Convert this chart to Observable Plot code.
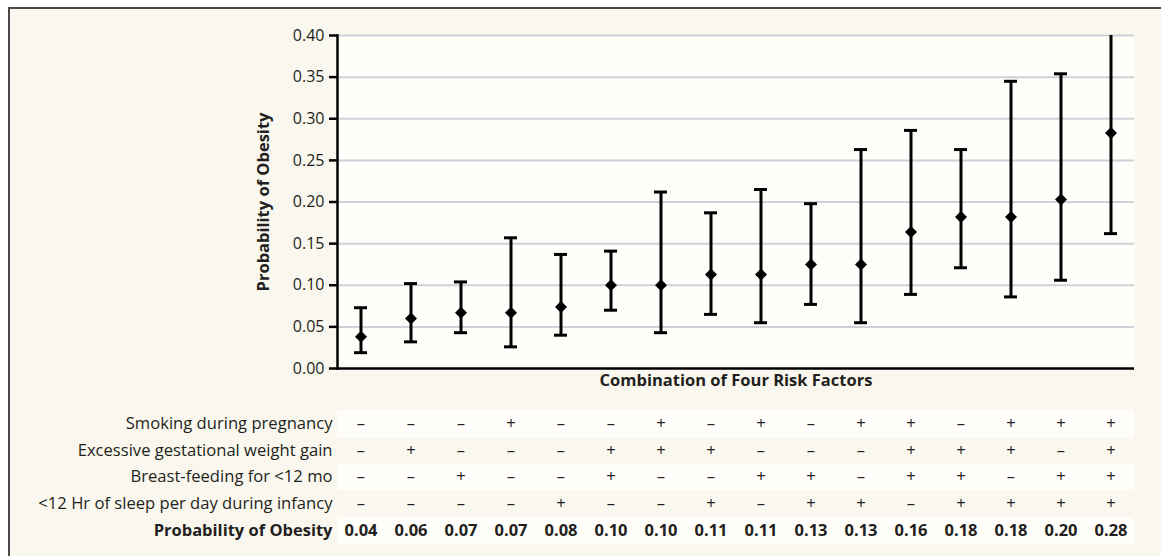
<!DOCTYPE html>
<html>
<head>
<meta charset="utf-8">
<script src="https://cdn.jsdelivr.net/npm/d3@7"></script>
<script src="https://cdn.jsdelivr.net/npm/@observablehq/plot@0.6"></script>
<style>
  html, body { margin: 0; padding: 0; background: #ffffff; }
  #page { position: relative; width: 1161px; height: 556px; overflow: hidden; }
  #frame { position: absolute; left: 8px; top: 7px; right: 0; bottom: 0;
           background: #faf8ee; border-top: 2px solid #4a4a4a; border-left: 2px solid #4a4a4a; }
  .layer { position: absolute; left: 0; }
</style>
</head>
<body>
<div id="page"><div id="frame"></div></div>
<script>
// ---- data ----
const combos = d3.range(16);
const estimate = [0.038, 0.060, 0.067, 0.067, 0.074, 0.100, 0.100, 0.113, 0.113, 0.125, 0.125, 0.164, 0.182, 0.182, 0.203, 0.283];
const lower    = [0.019, 0.032, 0.043, 0.026, 0.040, 0.070, 0.043, 0.065, 0.055, 0.077, 0.055, 0.089, 0.121, 0.086, 0.106, 0.162];
const upper    = [0.073, 0.102, 0.104, 0.157, 0.137, 0.141, 0.212, 0.187, 0.215, 0.198, 0.263, 0.286, 0.263, 0.345, 0.354, 0.420];
const probLabels = ["0.04","0.06","0.07","0.07","0.08","0.10","0.10","0.11","0.11","0.13","0.13","0.16","0.18","0.18","0.20","0.28"];
const factorNames = ["Smoking during pregnancy", "Excessive gestational weight gain", "Breast-feeding for <12 mo", "<12 Hr of sleep per day during infancy"];
const smoking   = ["-","-","-","+","-","-","+","-","+","-","+","+","-","+","+","+"];
const weightGain= ["-","+","-","-","-","+","+","+","-","-","-","+","+","+","-","+"];
const breast    = ["-","-","+","-","-","+","-","-","+","+","-","+","+","-","+","+"];
const sleep     = ["-","-","-","-","+","-","-","+","-","+","+","-","+","+","+","+"];
const yTicks = [0, 0.05, 0.10, 0.15, 0.20, 0.25, 0.30, 0.35, 0.40];
const yLabel = "Probability of Obesity";
const xLabel = "Combination of Four Risk Factors";
const probRowLabel = "Probability of Obesity";

// ---- tables ----
const points = combos.map(i => ({i, est: estimate[i], lo: lower[i], hi: upper[i]}));
const signRows = [smoking, weightGain, breast, sleep];
const cells = signRows.flatMap((row, r) => row.map((s, c) => ({r, c, s: s === "+" ? "+" : "\u2013"})));

const FONT = "'Open Sans', 'Noto Sans', sans-serif";
const INK = "#231f20";
const W = 1161, ML = 337, MR = 27;
const FS = 16, FST = 16.6, FSB = 16.5;
const xOpts = {type: "band", domain: combos, paddingInner: 0.74, paddingOuter: 0.31, axis: null};

const chart = Plot.plot({
  width: W, height: 398,
  marginLeft: ML, marginRight: MR, marginTop: 35, marginBottom: 30,
  style: {background: "transparent", fontFamily: FONT, fontSize: FS + "px", color: INK, overflow: "visible"},
  x: xOpts,
  y: {domain: [0, 0.40], axis: null},
  marks: [
    Plot.frame({fill: "#fffefa", stroke: null}),
    Plot.gridY(yTicks.filter(v => v > 0), {stroke: "#cfd0d8", strokeOpacity: 1, strokeWidth: 2}),
    Plot.ruleX(points, {x: "i", y1: "lo", y2: "hi", stroke: "black", strokeWidth: 3, clip: true}),
    Plot.tickY(points, {x: "i", y: "lo", stroke: "black", strokeWidth: 3}),
    Plot.tickY(points.filter(d => d.hi <= 0.40), {x: "i", y: "hi", stroke: "black", strokeWidth: 3}),
    Plot.dot(points, {x: "i", y: "est", symbol: "diamond2", fill: "black", stroke: null, r: 5.4}),
    Plot.ruleY([0], {stroke: "black", strokeWidth: 2.5}),
    Plot.frame({anchor: "left", stroke: "black", strokeWidth: 2.5}),
    Plot.axisY(yTicks, {tickSize: 8, tickPadding: 5, tickFormat: d3.format(".2f"), stroke: "black", strokeWidth: 2.5, fill: INK, label: null, fontSize: FS}),
    Plot.text([yLabel], {frameAnchor: "left", textAnchor: "middle", dx: -74, rotate: -90, fontWeight: "bold", fontSize: FSB, fill: INK}),
    Plot.text([xLabel], {frameAnchor: "bottom", textAnchor: "middle", dy: 17, fontWeight: "bold", fontSize: FSB, fill: INK})
  ]
});
chart.classList.add("layer");
chart.style.top = "0px";
document.getElementById("page").appendChild(chart);

const table = Plot.plot({
  width: W, height: 158,
  marginLeft: ML, marginRight: MR, marginTop: 12, marginBottom: 12.7,
  style: {background: "transparent", fontFamily: FONT, fontSize: FS + "px", color: INK, overflow: "visible"},
  x: xOpts,
  y: {domain: [4.5, -0.5], axis: null},
  marks: [
    Plot.ruleY([0, 2, 4], {stroke: "#fffefa", strokeWidth: 26.7}),
    Plot.text(cells, {x: "c", y: "r", text: "s", fontSize: FST, fill: INK}),
    Plot.text(probLabels, {x: (d, i) => i, y: () => 4, text: d => d, fontSize: FSB, fontWeight: "bold", fill: INK}),
    Plot.text(factorNames, {y: (d, i) => i, text: d => d, frameAnchor: "left", textAnchor: "end", dx: -5, fontSize: FST, fill: INK}),
    Plot.text([probRowLabel], {y: () => 4, text: d => d, frameAnchor: "left", textAnchor: "end", dx: -5, fontSize: FSB, fontWeight: "bold", fill: INK})
  ]
});
table.classList.add("layer");
table.style.top = "398px";
document.getElementById("page").appendChild(table);
</script>
</body>
</html>
